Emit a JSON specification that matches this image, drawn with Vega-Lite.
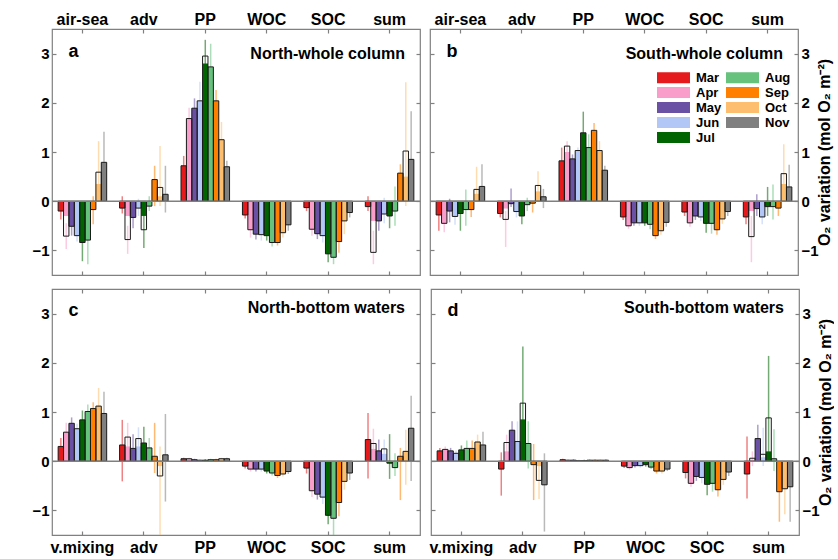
{
"$schema": "https://vega.github.io/schema/vega-lite/v6.json",
"autosize": {"type": "pad"},
"padding": {"left": 31, "top": 10, "right": 0, "bottom": 0},
"background": "white",
"config": {
  "font": "Liberation Sans",
  "view": {"stroke": "#808080", "strokeWidth": 1.2},
  "axis": {"grid": false, "domain": false, "tickColor": "#808080", "tickWidth": 1.2, "labelColor": "black", "labelFontWeight": "bold", "titleColor": "black"}
},
"data": {"values": [
{"p":"a","g":"air-sea","m":"Mar","v":-0.2,"f":-0.2,"lo":-0.37,"hi":-0.05},
{"p":"a","g":"air-sea","m":"Apr","v":-0.71,"f":-0.3,"lo":-0.97,"hi":-0.45},
{"p":"a","g":"air-sea","m":"May","v":-0.51,"f":-0.51,"lo":-0.7,"hi":-0.35},
{"p":"a","g":"air-sea","m":"Jun","v":-0.7,"f":-0.7,"lo":-0.82,"hi":-0.55},
{"p":"a","g":"air-sea","m":"Jul","v":-0.84,"f":-0.84,"lo":-1.22,"hi":-0.5},
{"p":"a","g":"air-sea","m":"Aug","v":-0.79,"f":-0.79,"lo":-1.28,"hi":-0.45},
{"p":"a","g":"air-sea","m":"Sep","v":-0.17,"f":-0.17,"lo":-0.47,"hi":0.1},
{"p":"a","g":"air-sea","m":"Oct","v":0.59,"f":0.35,"lo":0.2,"hi":1.22},
{"p":"a","g":"air-sea","m":"Nov","v":0.79,"f":0.79,"lo":0.3,"hi":1.41},
{"p":"a","g":"adv","m":"Mar","v":-0.14,"f":-0.14,"lo":-0.25,"hi":0.1},
{"p":"a","g":"adv","m":"Apr","v":-0.78,"f":-0.3,"lo":-1.07,"hi":-0.5},
{"p":"a","g":"adv","m":"May","v":-0.33,"f":-0.33,"lo":-0.55,"hi":-0.15},
{"p":"a","g":"adv","m":"Jun","v":-0.14,"f":-0.14,"lo":-0.3,"hi":0.05},
{"p":"a","g":"adv","m":"Jul","v":-0.58,"f":-0.3,"lo":-0.95,"hi":-0.2},
{"p":"a","g":"adv","m":"Aug","v":-0.1,"f":-0.1,"lo":-0.2,"hi":0.1},
{"p":"a","g":"adv","m":"Sep","v":0.44,"f":0.44,"lo":-0.1,"hi":0.72},
{"p":"a","g":"adv","m":"Oct","v":0.28,"f":0.1,"lo":-0.1,"hi":1.12},
{"p":"a","g":"adv","m":"Nov","v":0.14,"f":0.14,"lo":-0.23,"hi":0.72},
{"p":"a","g":"PP","m":"Mar","v":0.72,"f":0.72,"lo":0.5,"hi":0.92},
{"p":"a","g":"PP","m":"Apr","v":1.68,"f":1.68,"lo":1.5,"hi":1.9},
{"p":"a","g":"PP","m":"May","v":1.89,"f":1.89,"lo":1.7,"hi":2.09},
{"p":"a","g":"PP","m":"Jun","v":2.04,"f":2.04,"lo":1.8,"hi":2.43},
{"p":"a","g":"PP","m":"Jul","v":2.95,"f":2.8,"lo":2.6,"hi":3.28},
{"p":"a","g":"PP","m":"Aug","v":2.73,"f":2.73,"lo":2.3,"hi":3.2},
{"p":"a","g":"PP","m":"Sep","v":2.04,"f":2.04,"lo":1.85,"hi":2.26},
{"p":"a","g":"PP","m":"Oct","v":1.25,"f":1.25,"lo":0.95,"hi":1.61},
{"p":"a","g":"PP","m":"Nov","v":0.7,"f":0.7,"lo":0.6,"hi":0.82},
{"p":"a","g":"WOC","m":"Mar","v":-0.28,"f":-0.28,"lo":-0.35,"hi":-0.2},
{"p":"a","g":"WOC","m":"Apr","v":-0.58,"f":-0.58,"lo":-0.74,"hi":-0.45},
{"p":"a","g":"WOC","m":"May","v":-0.67,"f":-0.67,"lo":-0.78,"hi":-0.55},
{"p":"a","g":"WOC","m":"Jun","v":-0.68,"f":-0.68,"lo":-0.8,"hi":-0.58},
{"p":"a","g":"WOC","m":"Jul","v":-0.7,"f":-0.7,"lo":-0.8,"hi":-0.6},
{"p":"a","g":"WOC","m":"Aug","v":-0.84,"f":-0.84,"lo":-0.92,"hi":-0.75},
{"p":"a","g":"WOC","m":"Sep","v":-0.84,"f":-0.84,"lo":-0.9,"hi":-0.75},
{"p":"a","g":"WOC","m":"Oct","v":-0.64,"f":-0.64,"lo":-0.74,"hi":-0.55},
{"p":"a","g":"WOC","m":"Nov","v":-0.48,"f":-0.48,"lo":-0.6,"hi":-0.38},
{"p":"a","g":"SOC","m":"Mar","v":-0.13,"f":-0.13,"lo":-0.2,"hi":-0.05},
{"p":"a","g":"SOC","m":"Apr","v":-0.57,"f":-0.57,"lo":-0.7,"hi":-0.45},
{"p":"a","g":"SOC","m":"May","v":-0.66,"f":-0.66,"lo":-0.77,"hi":-0.55},
{"p":"a","g":"SOC","m":"Jun","v":-0.7,"f":-0.7,"lo":-0.84,"hi":-0.6},
{"p":"a","g":"SOC","m":"Jul","v":-1.07,"f":-1.07,"lo":-1.24,"hi":-0.9},
{"p":"a","g":"SOC","m":"Aug","v":-1.14,"f":-1.14,"lo":-1.28,"hi":-0.95},
{"p":"a","g":"SOC","m":"Sep","v":-0.82,"f":-0.82,"lo":-1.05,"hi":-0.6},
{"p":"a","g":"SOC","m":"Oct","v":-0.4,"f":-0.4,"lo":-0.67,"hi":-0.3},
{"p":"a","g":"SOC","m":"Nov","v":-0.23,"f":-0.23,"lo":-0.33,"hi":-0.15},
{"p":"a","g":"sum","m":"Mar","v":-0.11,"f":-0.11,"lo":-0.2,"hi":0.1},
{"p":"a","g":"sum","m":"Apr","v":-1.04,"f":-0.4,"lo":-1.28,"hi":-0.6},
{"p":"a","g":"sum","m":"May","v":-0.4,"f":-0.4,"lo":-0.6,"hi":-0.2},
{"p":"a","g":"sum","m":"Jun","v":-0.26,"f":-0.26,"lo":-0.45,"hi":0.07},
{"p":"a","g":"sum","m":"Jul","v":-0.3,"f":-0.3,"lo":-0.55,"hi":-0.1},
{"p":"a","g":"sum","m":"Aug","v":-0.2,"f":-0.2,"lo":-0.5,"hi":0.3},
{"p":"a","g":"sum","m":"Sep","v":0.57,"f":0.57,"lo":0.0,"hi":0.75},
{"p":"a","g":"sum","m":"Oct","v":1.02,"f":0.5,"lo":-0.1,"hi":2.42},
{"p":"a","g":"sum","m":"Nov","v":0.85,"f":0.85,"lo":0.0,"hi":1.83},
{"p":"b","g":"air-sea","m":"Mar","v":-0.28,"f":-0.28,"lo":-0.6,"hi":-0.1},
{"p":"b","g":"air-sea","m":"Apr","v":-0.45,"f":-0.45,"lo":-0.63,"hi":-0.3},
{"p":"b","g":"air-sea","m":"May","v":-0.2,"f":-0.2,"lo":-0.43,"hi":0.05},
{"p":"b","g":"air-sea","m":"Jun","v":-0.31,"f":-0.31,"lo":-0.48,"hi":-0.15},
{"p":"b","g":"air-sea","m":"Jul","v":-0.25,"f":-0.25,"lo":-0.6,"hi":-0.1},
{"p":"b","g":"air-sea","m":"Aug","v":-0.17,"f":-0.17,"lo":-0.5,"hi":0.24},
{"p":"b","g":"air-sea","m":"Sep","v":-0.17,"f":-0.17,"lo":-0.32,"hi":-0.05},
{"p":"b","g":"air-sea","m":"Oct","v":0.24,"f":0.15,"lo":0.0,"hi":0.7},
{"p":"b","g":"air-sea","m":"Nov","v":0.3,"f":0.3,"lo":0.0,"hi":0.75},
{"p":"b","g":"adv","m":"Mar","v":-0.25,"f":-0.25,"lo":-0.33,"hi":-0.15},
{"p":"b","g":"adv","m":"Apr","v":-0.37,"f":-0.15,"lo":-0.93,"hi":-0.2},
{"p":"b","g":"adv","m":"May","v":-0.05,"f":-0.05,"lo":-0.12,"hi":0.26},
{"p":"b","g":"adv","m":"Jun","v":-0.21,"f":-0.21,"lo":-0.33,"hi":-0.1},
{"p":"b","g":"adv","m":"Jul","v":-0.3,"f":-0.3,"lo":-0.47,"hi":-0.15},
{"p":"b","g":"adv","m":"Aug","v":-0.07,"f":-0.07,"lo":-0.2,"hi":0.07},
{"p":"b","g":"adv","m":"Sep","v":-0.04,"f":-0.04,"lo":-0.23,"hi":0.0},
{"p":"b","g":"adv","m":"Oct","v":0.32,"f":0.2,"lo":0.05,"hi":0.61},
{"p":"b","g":"adv","m":"Nov","v":0.09,"f":0.09,"lo":-0.14,"hi":0.25},
{"p":"b","g":"PP","m":"Mar","v":0.82,"f":0.82,"lo":0.6,"hi":1.09},
{"p":"b","g":"PP","m":"Apr","v":1.12,"f":1.0,"lo":0.95,"hi":1.22},
{"p":"b","g":"PP","m":"May","v":0.86,"f":0.86,"lo":0.75,"hi":0.95},
{"p":"b","g":"PP","m":"Jun","v":1.03,"f":1.03,"lo":0.9,"hi":1.09},
{"p":"b","g":"PP","m":"Jul","v":1.39,"f":1.39,"lo":1.0,"hi":1.82},
{"p":"b","g":"PP","m":"Aug","v":1.09,"f":1.09,"lo":0.9,"hi":1.36},
{"p":"b","g":"PP","m":"Sep","v":1.44,"f":1.44,"lo":1.3,"hi":1.59},
{"p":"b","g":"PP","m":"Oct","v":1.03,"f":1.03,"lo":0.85,"hi":1.22},
{"p":"b","g":"PP","m":"Nov","v":0.63,"f":0.63,"lo":0.55,"hi":0.72},
{"p":"b","g":"WOC","m":"Mar","v":-0.32,"f":-0.32,"lo":-0.38,"hi":-0.25},
{"p":"b","g":"WOC","m":"Apr","v":-0.5,"f":-0.5,"lo":-0.56,"hi":-0.43},
{"p":"b","g":"WOC","m":"May","v":-0.44,"f":-0.44,"lo":-0.5,"hi":-0.38},
{"p":"b","g":"WOC","m":"Jun","v":-0.44,"f":-0.44,"lo":-0.5,"hi":-0.38},
{"p":"b","g":"WOC","m":"Jul","v":-0.44,"f":-0.44,"lo":-0.5,"hi":-0.38},
{"p":"b","g":"WOC","m":"Aug","v":-0.47,"f":-0.47,"lo":-0.57,"hi":-0.38},
{"p":"b","g":"WOC","m":"Sep","v":-0.7,"f":-0.7,"lo":-0.77,"hi":-0.62},
{"p":"b","g":"WOC","m":"Oct","v":-0.6,"f":-0.6,"lo":-0.68,"hi":-0.52},
{"p":"b","g":"WOC","m":"Nov","v":-0.43,"f":-0.43,"lo":-0.52,"hi":-0.35},
{"p":"b","g":"SOC","m":"Mar","v":-0.22,"f":-0.22,"lo":-0.3,"hi":-0.15},
{"p":"b","g":"SOC","m":"Apr","v":-0.44,"f":-0.44,"lo":-0.52,"hi":-0.36},
{"p":"b","g":"SOC","m":"May","v":-0.3,"f":-0.3,"lo":-0.38,"hi":-0.22},
{"p":"b","g":"SOC","m":"Jun","v":-0.32,"f":-0.32,"lo":-0.4,"hi":-0.25},
{"p":"b","g":"SOC","m":"Jul","v":-0.45,"f":-0.45,"lo":-0.64,"hi":-0.3},
{"p":"b","g":"SOC","m":"Aug","v":-0.45,"f":-0.45,"lo":-0.66,"hi":-0.3},
{"p":"b","g":"SOC","m":"Sep","v":-0.58,"f":-0.58,"lo":-0.68,"hi":-0.48},
{"p":"b","g":"SOC","m":"Oct","v":-0.36,"f":-0.36,"lo":-0.46,"hi":-0.28},
{"p":"b","g":"SOC","m":"Nov","v":-0.21,"f":-0.21,"lo":-0.3,"hi":-0.15},
{"p":"b","g":"sum","m":"Mar","v":-0.32,"f":-0.32,"lo":-0.47,"hi":-0.15},
{"p":"b","g":"sum","m":"Apr","v":-0.72,"f":-0.2,"lo":-1.24,"hi":-0.3},
{"p":"b","g":"sum","m":"May","v":-0.15,"f":-0.15,"lo":-0.3,"hi":0.14},
{"p":"b","g":"sum","m":"Jun","v":-0.32,"f":-0.32,"lo":-0.47,"hi":-0.15},
{"p":"b","g":"sum","m":"Jul","v":-0.11,"f":-0.11,"lo":-0.3,"hi":0.29},
{"p":"b","g":"sum","m":"Aug","v":-0.11,"f":-0.11,"lo":-0.37,"hi":0.34},
{"p":"b","g":"sum","m":"Sep","v":-0.14,"f":-0.14,"lo":-0.3,"hi":0.0},
{"p":"b","g":"sum","m":"Oct","v":0.56,"f":0.35,"lo":0.0,"hi":1.16},
{"p":"b","g":"sum","m":"Nov","v":0.29,"f":0.29,"lo":0.05,"hi":0.74},
{"p":"c","g":"v.mixing","m":"Mar","v":0.3,"f":0.3,"lo":0.15,"hi":0.47},
{"p":"c","g":"v.mixing","m":"Apr","v":0.59,"f":0.59,"lo":0.45,"hi":0.78},
{"p":"c","g":"v.mixing","m":"May","v":0.77,"f":0.77,"lo":0.65,"hi":0.89},
{"p":"c","g":"v.mixing","m":"Jun","v":0.66,"f":0.66,"lo":0.55,"hi":0.76},
{"p":"c","g":"v.mixing","m":"Jul","v":0.84,"f":0.84,"lo":0.65,"hi":1.03},
{"p":"c","g":"v.mixing","m":"Aug","v":1.01,"f":1.01,"lo":0.85,"hi":1.15},
{"p":"c","g":"v.mixing","m":"Sep","v":1.07,"f":1.07,"lo":0.95,"hi":1.2},
{"p":"c","g":"v.mixing","m":"Oct","v":1.12,"f":1.12,"lo":0.8,"hi":1.49},
{"p":"c","g":"v.mixing","m":"Nov","v":0.97,"f":0.97,"lo":0.65,"hi":1.41},
{"p":"c","g":"adv","m":"Mar","v":0.33,"f":0.33,"lo":-0.41,"hi":0.84},
{"p":"c","g":"adv","m":"Apr","v":0.49,"f":0.3,"lo":0.2,"hi":0.78},
{"p":"c","g":"adv","m":"May","v":0.26,"f":0.26,"lo":0.1,"hi":0.55},
{"p":"c","g":"adv","m":"Jun","v":0.46,"f":0.3,"lo":0.2,"hi":0.69},
{"p":"c","g":"adv","m":"Jul","v":0.37,"f":0.37,"lo":0.1,"hi":0.7},
{"p":"c","g":"adv","m":"Aug","v":0.27,"f":0.27,"lo":0.0,"hi":0.47},
{"p":"c","g":"adv","m":"Sep","v":0.1,"f":0.1,"lo":-0.24,"hi":0.78},
{"p":"c","g":"adv","m":"Oct","v":-0.3,"f":-0.1,"lo":-1.5,"hi":0.3},
{"p":"c","g":"adv","m":"Nov","v":0.13,"f":0.13,"lo":-0.82,"hi":0.96},
{"p":"c","g":"PP","m":"Mar","v":0.05,"f":0.05,"lo":0.03,"hi":0.07},
{"p":"c","g":"PP","m":"Apr","v":0.05,"f":0.05,"lo":0.03,"hi":0.07},
{"p":"c","g":"PP","m":"May","v":0.03,"f":0.03,"lo":0.01,"hi":0.05},
{"p":"c","g":"PP","m":"Jun","v":0.02,"f":0.02,"lo":0.0,"hi":0.04},
{"p":"c","g":"PP","m":"Jul","v":0.02,"f":0.02,"lo":0.0,"hi":0.04},
{"p":"c","g":"PP","m":"Aug","v":0.03,"f":0.03,"lo":0.01,"hi":0.05},
{"p":"c","g":"PP","m":"Sep","v":0.03,"f":0.03,"lo":0.01,"hi":0.05},
{"p":"c","g":"PP","m":"Oct","v":0.05,"f":0.05,"lo":0.03,"hi":0.07},
{"p":"c","g":"PP","m":"Nov","v":0.05,"f":0.05,"lo":0.03,"hi":0.07},
{"p":"c","g":"WOC","m":"Mar","v":-0.1,"f":-0.1,"lo":-0.15,"hi":-0.05},
{"p":"c","g":"WOC","m":"Apr","v":-0.16,"f":-0.16,"lo":-0.21,"hi":-0.11},
{"p":"c","g":"WOC","m":"May","v":-0.16,"f":-0.16,"lo":-0.21,"hi":-0.11},
{"p":"c","g":"WOC","m":"Jun","v":-0.16,"f":-0.16,"lo":-0.21,"hi":-0.11},
{"p":"c","g":"WOC","m":"Jul","v":-0.2,"f":-0.2,"lo":-0.25,"hi":-0.15},
{"p":"c","g":"WOC","m":"Aug","v":-0.24,"f":-0.24,"lo":-0.29,"hi":-0.19},
{"p":"c","g":"WOC","m":"Sep","v":-0.29,"f":-0.29,"lo":-0.34,"hi":-0.24},
{"p":"c","g":"WOC","m":"Oct","v":-0.26,"f":-0.26,"lo":-0.31,"hi":-0.21},
{"p":"c","g":"WOC","m":"Nov","v":-0.21,"f":-0.21,"lo":-0.26,"hi":-0.16},
{"p":"c","g":"SOC","m":"Mar","v":-0.14,"f":-0.14,"lo":-0.25,"hi":-0.05},
{"p":"c","g":"SOC","m":"Apr","v":-0.6,"f":-0.6,"lo":-0.73,"hi":-0.48},
{"p":"c","g":"SOC","m":"May","v":-0.67,"f":-0.67,"lo":-0.78,"hi":-0.55},
{"p":"c","g":"SOC","m":"Jun","v":-0.73,"f":-0.73,"lo":-0.87,"hi":-0.6},
{"p":"c","g":"SOC","m":"Jul","v":-1.1,"f":-1.1,"lo":-1.28,"hi":-0.9},
{"p":"c","g":"SOC","m":"Aug","v":-1.16,"f":-1.16,"lo":-1.5,"hi":-0.9},
{"p":"c","g":"SOC","m":"Sep","v":-0.84,"f":-0.84,"lo":-1.12,"hi":-0.6},
{"p":"c","g":"SOC","m":"Oct","v":-0.41,"f":-0.41,"lo":-0.58,"hi":-0.3},
{"p":"c","g":"SOC","m":"Nov","v":-0.24,"f":-0.24,"lo":-0.38,"hi":-0.12},
{"p":"c","g":"sum","m":"Mar","v":0.44,"f":0.44,"lo":-0.35,"hi":0.98},
{"p":"c","g":"sum","m":"Apr","v":0.36,"f":0.25,"lo":0.1,"hi":0.66},
{"p":"c","g":"sum","m":"May","v":0.21,"f":0.21,"lo":0.05,"hi":0.44},
{"p":"c","g":"sum","m":"Jun","v":0.25,"f":0.15,"lo":0.0,"hi":0.44},
{"p":"c","g":"sum","m":"Jul","v":-0.04,"f":-0.04,"lo":-0.36,"hi":0.55},
{"p":"c","g":"sum","m":"Aug","v":-0.13,"f":-0.13,"lo":-0.3,"hi":0.16},
{"p":"c","g":"sum","m":"Sep","v":0.1,"f":0.1,"lo":-0.79,"hi":0.27},
{"p":"c","g":"sum","m":"Oct","v":0.2,"f":0.2,"lo":-0.48,"hi":0.64},
{"p":"c","g":"sum","m":"Nov","v":0.67,"f":0.67,"lo":-0.4,"hi":1.33},
{"p":"d","g":"v.mixing","m":"Mar","v":0.21,"f":0.21,"lo":0.15,"hi":0.27},
{"p":"d","g":"v.mixing","m":"Apr","v":0.24,"f":0.24,"lo":0.18,"hi":0.3},
{"p":"d","g":"v.mixing","m":"May","v":0.21,"f":0.21,"lo":0.14,"hi":0.27},
{"p":"d","g":"v.mixing","m":"Jun","v":0.16,"f":0.16,"lo":0.1,"hi":0.22},
{"p":"d","g":"v.mixing","m":"Jul","v":0.23,"f":0.23,"lo":0.12,"hi":0.32},
{"p":"d","g":"v.mixing","m":"Aug","v":0.26,"f":0.26,"lo":0.15,"hi":0.42},
{"p":"d","g":"v.mixing","m":"Sep","v":0.26,"f":0.26,"lo":0.1,"hi":0.42},
{"p":"d","g":"v.mixing","m":"Oct","v":0.39,"f":0.39,"lo":0.2,"hi":0.54},
{"p":"d","g":"v.mixing","m":"Nov","v":0.33,"f":0.33,"lo":0.05,"hi":0.6},
{"p":"d","g":"adv","m":"Mar","v":-0.16,"f":-0.16,"lo":-0.7,"hi":0.18},
{"p":"d","g":"adv","m":"Apr","v":0.38,"f":0.2,"lo":0.0,"hi":0.54},
{"p":"d","g":"adv","m":"May","v":0.63,"f":0.63,"lo":0.2,"hi":0.81},
{"p":"d","g":"adv","m":"Jun","v":0.4,"f":0.4,"lo":0.05,"hi":0.81},
{"p":"d","g":"adv","m":"Jul","v":1.18,"f":0.85,"lo":0.1,"hi":2.33},
{"p":"d","g":"adv","m":"Aug","v":0.36,"f":0.36,"lo":-0.15,"hi":0.81},
{"p":"d","g":"adv","m":"Sep","v":-0.07,"f":-0.07,"lo":-0.79,"hi":0.35},
{"p":"d","g":"adv","m":"Oct","v":-0.39,"f":-0.1,"lo":-0.77,"hi":0.0},
{"p":"d","g":"adv","m":"Nov","v":-0.48,"f":-0.48,"lo":-1.43,"hi":0.16},
{"p":"d","g":"PP","m":"Mar","v":0.03,"f":0.03,"lo":0.01,"hi":0.05},
{"p":"d","g":"PP","m":"Apr","v":0.02,"f":0.02,"lo":0.0,"hi":0.04},
{"p":"d","g":"PP","m":"May","v":0.02,"f":0.02,"lo":0.0,"hi":0.04},
{"p":"d","g":"PP","m":"Jun","v":0.01,"f":0.01,"lo":0.0,"hi":0.03},
{"p":"d","g":"PP","m":"Jul","v":0.01,"f":0.01,"lo":0.0,"hi":0.03},
{"p":"d","g":"PP","m":"Aug","v":0.02,"f":0.02,"lo":0.0,"hi":0.04},
{"p":"d","g":"PP","m":"Sep","v":0.02,"f":0.02,"lo":0.0,"hi":0.04},
{"p":"d","g":"PP","m":"Oct","v":0.02,"f":0.02,"lo":0.0,"hi":0.04},
{"p":"d","g":"PP","m":"Nov","v":0.02,"f":0.02,"lo":0.0,"hi":0.04},
{"p":"d","g":"WOC","m":"Mar","v":-0.1,"f":-0.1,"lo":-0.14,"hi":-0.06},
{"p":"d","g":"WOC","m":"Apr","v":-0.13,"f":-0.13,"lo":-0.17,"hi":-0.09},
{"p":"d","g":"WOC","m":"May","v":-0.09,"f":-0.09,"lo":-0.13,"hi":-0.05},
{"p":"d","g":"WOC","m":"Jun","v":-0.09,"f":-0.09,"lo":-0.13,"hi":-0.05},
{"p":"d","g":"WOC","m":"Jul","v":-0.07,"f":-0.07,"lo":-0.11,"hi":-0.03},
{"p":"d","g":"WOC","m":"Aug","v":-0.12,"f":-0.12,"lo":-0.16,"hi":-0.08},
{"p":"d","g":"WOC","m":"Sep","v":-0.2,"f":-0.2,"lo":-0.25,"hi":-0.15},
{"p":"d","g":"WOC","m":"Oct","v":-0.2,"f":-0.2,"lo":-0.25,"hi":-0.15},
{"p":"d","g":"WOC","m":"Nov","v":-0.16,"f":-0.16,"lo":-0.2,"hi":-0.12},
{"p":"d","g":"SOC","m":"Mar","v":-0.23,"f":-0.23,"lo":-0.35,"hi":-0.12},
{"p":"d","g":"SOC","m":"Apr","v":-0.45,"f":-0.45,"lo":-0.52,"hi":-0.35},
{"p":"d","g":"SOC","m":"May","v":-0.31,"f":-0.31,"lo":-0.4,"hi":-0.22},
{"p":"d","g":"SOC","m":"Jun","v":-0.33,"f":-0.33,"lo":-0.45,"hi":-0.22},
{"p":"d","g":"SOC","m":"Jul","v":-0.47,"f":-0.47,"lo":-0.69,"hi":-0.3},
{"p":"d","g":"SOC","m":"Aug","v":-0.45,"f":-0.45,"lo":-0.62,"hi":-0.3},
{"p":"d","g":"SOC","m":"Sep","v":-0.58,"f":-0.58,"lo":-0.72,"hi":-0.45},
{"p":"d","g":"SOC","m":"Oct","v":-0.37,"f":-0.37,"lo":-0.48,"hi":-0.25},
{"p":"d","g":"SOC","m":"Nov","v":-0.22,"f":-0.22,"lo":-0.3,"hi":-0.12},
{"p":"d","g":"sum","m":"Mar","v":-0.26,"f":-0.26,"lo":-0.76,"hi":0.5},
{"p":"d","g":"sum","m":"Apr","v":0.06,"f":0.03,"lo":-0.1,"hi":0.2},
{"p":"d","g":"sum","m":"May","v":0.46,"f":0.46,"lo":0.2,"hi":0.74},
{"p":"d","g":"sum","m":"Jun","v":0.14,"f":0.08,"lo":-0.1,"hi":0.68},
{"p":"d","g":"sum","m":"Jul","v":0.88,"f":0.2,"lo":0.0,"hi":2.14},
{"p":"d","g":"sum","m":"Aug","v":0.05,"f":0.05,"lo":-0.2,"hi":0.65},
{"p":"d","g":"sum","m":"Sep","v":-0.62,"f":-0.62,"lo":-1.23,"hi":-0.3},
{"p":"d","g":"sum","m":"Oct","v":-0.56,"f":-0.56,"lo":-1.08,"hi":-0.3},
{"p":"d","g":"sum","m":"Nov","v":-0.52,"f":-0.52,"lo":-1.23,"hi":-0.15}
]},
"spacing": 10,
"resolve": {"scale": {"color": "independent"}, "legend": {"color": "independent"}},
"vconcat": [
 {"hconcat": [
  {"width": 368, "height": 246,
   "transform": [{"filter": "datum.p == 'a'"}],
   "title": {"text": "North-whole column", "anchor": "end", "frame": "group", "orient": "top", "offset": -64, "baseline": "alphabetic", "fontSize": 16, "fontWeight": "bold", "dx": -15, "color": "black"},
   "resolve": {"axis": {"x": "independent", "y": "independent"}},
   "layer": [
    {"mark": {"type": "bar"},
     "encoding": {
      "x": {"field": "g", "type": "nominal", "sort": ["air-sea","adv","PP","WOC","SOC","sum"], "scale": {"paddingInner": 0.21, "paddingOuter": 0.1}, "axis": {"orient": "top", "title": "a", "titleX": 16, "titleY": 27, "titleAlign": "left", "titleBaseline": "alphabetic", "titleFontSize": 18, "titleFontWeight": "bold", "titleAngle": 0, "labelAngle": 0, "labelFontSize": 16, "tickSize": -4, "labelPadding": 6}},
      "xOffset": {"field": "m", "type": "nominal", "sort": ["Mar","Apr","May","Jun","Jul","Aug","Sep","Oct","Nov"], "scale": {"paddingInner": 0, "paddingOuter": 0}},
      "y": {"field": "f", "type": "quantitative", "scale": {"domain": [-1.5, 3.5], "nice": false}, "axis": {"orient": "left", "values": [-1,0,1,2,3], "title": null, "tickSize": -4, "labelPadding": 7, "labelFontSize": 15}},
      "color": {"field": "m", "type": "nominal", "scale": {"domain": ["Mar","Apr","May","Jun","Jul","Aug","Sep","Oct","Nov"], "range": ["#e41a1c","#f99ecb","#6a51a3","#b3c7f7","#006400","#66c27d","#ff7f00","#fdbf6f","#808080"]}, "legend": null}
     }},
    {"mark": {"type": "rule", "strokeWidth": 1.5, "opacity": 0.55},
     "encoding": {
      "x": {"field": "g", "type": "nominal", "sort": ["air-sea","adv","PP","WOC","SOC","sum"], "axis": null},
      "xOffset": {"field": "m", "type": "nominal", "sort": ["Mar","Apr","May","Jun","Jul","Aug","Sep","Oct","Nov"]},
      "y": {"field": "lo", "type": "quantitative", "axis": null},
      "y2": {"field": "hi"},
      "color": {"field": "m", "type": "nominal", "legend": null}
     }},
    {"mark": {"type": "bar", "fill": "transparent", "stroke": "#1a1a1a", "strokeWidth": 1},
     "encoding": {
      "x": {"field": "g", "type": "nominal", "sort": ["air-sea","adv","PP","WOC","SOC","sum"], "axis": {"orient": "bottom", "labels": false, "title": null, "tickSize": -4}},
      "xOffset": {"field": "m", "type": "nominal", "sort": ["Mar","Apr","May","Jun","Jul","Aug","Sep","Oct","Nov"]},
      "y": {"field": "v", "type": "quantitative", "axis": {"orient": "right", "values": [-1,0,1,2,3], "labels": false, "title": null, "tickSize": -4}}
     }},
    {"data": {"values": [{}]}, "mark": {"type": "rule", "color": "#808080", "strokeWidth": 1.5},
     "encoding": {"y": {"datum": 0, "type": "quantitative", "axis": null}}}
   ]},
  {"width": 368, "height": 246,
   "transform": [{"filter": "datum.p == 'b'"}],
   "title": {"text": "South-whole column", "anchor": "end", "frame": "group", "orient": "top", "offset": -64, "baseline": "alphabetic", "fontSize": 16, "fontWeight": "bold", "dx": -15, "color": "black"},
   "resolve": {"axis": {"x": "independent", "y": "independent"}},
   "layer": [
    {"mark": {"type": "bar"},
     "encoding": {
      "x": {"field": "g", "type": "nominal", "sort": ["air-sea","adv","PP","WOC","SOC","sum"], "scale": {"paddingInner": 0.21, "paddingOuter": 0.1}, "axis": {"orient": "top", "title": "b", "titleX": 16, "titleY": 27, "titleAlign": "left", "titleBaseline": "alphabetic", "titleFontSize": 18, "titleFontWeight": "bold", "titleAngle": 0, "labelAngle": 0, "labelFontSize": 16, "tickSize": -4, "labelPadding": 6}},
      "xOffset": {"field": "m", "type": "nominal", "sort": ["Mar","Apr","May","Jun","Jul","Aug","Sep","Oct","Nov"], "scale": {"paddingInner": 0, "paddingOuter": 0}},
      "y": {"field": "f", "type": "quantitative", "scale": {"domain": [-1.5, 3.5], "nice": false}, "axis": {"orient": "right", "values": [-1,0,1,2,3], "title": "O₂ variation (mol O₂ m⁻²)", "titleFontSize": 16, "titleFontWeight": "bold", "titleAngle": 270, "titlePadding": 14, "tickSize": -4, "labelPadding": 7, "labelFontSize": 15}},
      "color": {"field": "m", "type": "nominal", "scale": {"domain": ["Mar","Apr","May","Jun","Jul","Aug","Sep","Oct","Nov"], "range": ["#e41a1c","#f99ecb","#6a51a3","#b3c7f7","#006400","#66c27d","#ff7f00","#fdbf6f","#808080"]},
        "legend": {"orient": "none", "legendX": 237, "legendY": 42, "columns": 2, "title": null, "symbolType": "M-3,-1H3V1H-3Z", "symbolSize": 121, "symbolStrokeWidth": 0, "symbolOpacity": 1, "labelFontSize": 13, "labelFontWeight": "bold", "labelColor": "black", "labelOffset": 16, "rowPadding": 1, "columnPadding": 4,
          "encode": {"symbols": {"update": {"opacity": {"value": 1}, "fillOpacity": {"value": 1}, "strokeWidth": {"value": 0}}}}}}
     }},
    {"mark": {"type": "rule", "strokeWidth": 1.5, "opacity": 0.55},
     "encoding": {
      "x": {"field": "g", "type": "nominal", "sort": ["air-sea","adv","PP","WOC","SOC","sum"], "axis": null},
      "xOffset": {"field": "m", "type": "nominal", "sort": ["Mar","Apr","May","Jun","Jul","Aug","Sep","Oct","Nov"]},
      "y": {"field": "lo", "type": "quantitative", "axis": null},
      "y2": {"field": "hi"},
      "color": {"field": "m", "type": "nominal"}
     }},
    {"mark": {"type": "bar", "fill": "transparent", "stroke": "#1a1a1a", "strokeWidth": 1},
     "encoding": {
      "x": {"field": "g", "type": "nominal", "sort": ["air-sea","adv","PP","WOC","SOC","sum"], "axis": {"orient": "bottom", "labels": false, "title": null, "tickSize": -4}},
      "xOffset": {"field": "m", "type": "nominal", "sort": ["Mar","Apr","May","Jun","Jul","Aug","Sep","Oct","Nov"]},
      "y": {"field": "v", "type": "quantitative", "axis": {"orient": "left", "values": [-1,0,1,2,3], "labels": false, "title": null, "tickSize": -4}}
     }},
    {"data": {"values": [{}]}, "mark": {"type": "rule", "color": "#808080", "strokeWidth": 1.5},
     "encoding": {"y": {"datum": 0, "type": "quantitative", "axis": null}}}
   ]}
 ], "spacing": 6, "resolve": {"scale": {"color": "independent"}, "legend": {"color": "independent"}}},
 {"hconcat": [
  {"width": 368, "height": 246,
   "transform": [{"filter": "datum.p == 'c'"}],
   "title": {"text": "North-bottom waters", "anchor": "end", "frame": "group", "orient": "top", "offset": -41, "baseline": "alphabetic", "fontSize": 16, "fontWeight": "bold", "dx": -15, "color": "black"},
   "resolve": {"axis": {"x": "independent", "y": "independent"}},
   "layer": [
    {"mark": {"type": "bar"},
     "encoding": {
      "x": {"field": "g", "type": "nominal", "sort": ["v.mixing","adv","PP","WOC","SOC","sum"], "scale": {"paddingInner": 0.21, "paddingOuter": 0.1}, "axis": {"orient": "bottom", "title": "c", "titleX": 16, "titleY": -220, "titleAlign": "left", "titleBaseline": "alphabetic", "titleFontSize": 18, "titleFontWeight": "bold", "titleAngle": 0, "labelAngle": 0, "labelFontSize": 16, "tickSize": -4, "labelPadding": 8}},
      "xOffset": {"field": "m", "type": "nominal", "sort": ["Mar","Apr","May","Jun","Jul","Aug","Sep","Oct","Nov"], "scale": {"paddingInner": 0, "paddingOuter": 0}},
      "y": {"field": "f", "type": "quantitative", "scale": {"domain": [-1.5, 3.5], "nice": false}, "axis": {"orient": "left", "values": [-1,0,1,2,3], "title": null, "tickSize": -4, "labelPadding": 7, "labelFontSize": 15}},
      "color": {"field": "m", "type": "nominal", "scale": {"domain": ["Mar","Apr","May","Jun","Jul","Aug","Sep","Oct","Nov"], "range": ["#e41a1c","#f99ecb","#6a51a3","#b3c7f7","#006400","#66c27d","#ff7f00","#fdbf6f","#808080"]}, "legend": null}
     }},
    {"mark": {"type": "rule", "strokeWidth": 1.5, "opacity": 0.55},
     "encoding": {
      "x": {"field": "g", "type": "nominal", "sort": ["v.mixing","adv","PP","WOC","SOC","sum"], "axis": null},
      "xOffset": {"field": "m", "type": "nominal", "sort": ["Mar","Apr","May","Jun","Jul","Aug","Sep","Oct","Nov"]},
      "y": {"field": "lo", "type": "quantitative", "axis": null},
      "y2": {"field": "hi"},
      "color": {"field": "m", "type": "nominal", "legend": null}
     }},
    {"mark": {"type": "bar", "fill": "transparent", "stroke": "#1a1a1a", "strokeWidth": 1},
     "encoding": {
      "x": {"field": "g", "type": "nominal", "sort": ["v.mixing","adv","PP","WOC","SOC","sum"], "axis": {"orient": "top", "labels": false, "title": null, "tickSize": -4}},
      "xOffset": {"field": "m", "type": "nominal", "sort": ["Mar","Apr","May","Jun","Jul","Aug","Sep","Oct","Nov"]},
      "y": {"field": "v", "type": "quantitative", "axis": {"orient": "right", "values": [-1,0,1,2,3], "labels": false, "title": null, "tickSize": -4}}
     }},
    {"data": {"values": [{}]}, "mark": {"type": "rule", "color": "#808080", "strokeWidth": 1.5},
     "encoding": {"y": {"datum": 0, "type": "quantitative", "axis": null}}}
   ]},
  {"width": 368, "height": 246,
   "transform": [{"filter": "datum.p == 'd'"}],
   "title": {"text": "South-bottom waters", "anchor": "end", "frame": "group", "orient": "top", "offset": -41, "baseline": "alphabetic", "fontSize": 16, "fontWeight": "bold", "dx": -15, "color": "black"},
   "resolve": {"axis": {"x": "independent", "y": "independent"}},
   "layer": [
    {"mark": {"type": "bar"},
     "encoding": {
      "x": {"field": "g", "type": "nominal", "sort": ["v.mixing","adv","PP","WOC","SOC","sum"], "scale": {"paddingInner": 0.21, "paddingOuter": 0.1}, "axis": {"orient": "bottom", "title": "d", "titleX": 16, "titleY": -220, "titleAlign": "left", "titleBaseline": "alphabetic", "titleFontSize": 18, "titleFontWeight": "bold", "titleAngle": 0, "labelAngle": 0, "labelFontSize": 16, "tickSize": -4, "labelPadding": 8}},
      "xOffset": {"field": "m", "type": "nominal", "sort": ["Mar","Apr","May","Jun","Jul","Aug","Sep","Oct","Nov"], "scale": {"paddingInner": 0, "paddingOuter": 0}},
      "y": {"field": "f", "type": "quantitative", "scale": {"domain": [-1.5, 3.5], "nice": false}, "axis": {"orient": "right", "values": [-1,0,1,2,3], "title": "O₂ variation (mol O₂ m⁻²)", "titleFontSize": 16, "titleFontWeight": "bold", "titleAngle": 270, "titlePadding": 14, "tickSize": -4, "labelPadding": 7, "labelFontSize": 15}},
      "color": {"field": "m", "type": "nominal", "scale": {"domain": ["Mar","Apr","May","Jun","Jul","Aug","Sep","Oct","Nov"], "range": ["#e41a1c","#f99ecb","#6a51a3","#b3c7f7","#006400","#66c27d","#ff7f00","#fdbf6f","#808080"]}, "legend": null}
     }},
    {"mark": {"type": "rule", "strokeWidth": 1.5, "opacity": 0.55},
     "encoding": {
      "x": {"field": "g", "type": "nominal", "sort": ["v.mixing","adv","PP","WOC","SOC","sum"], "axis": null},
      "xOffset": {"field": "m", "type": "nominal", "sort": ["Mar","Apr","May","Jun","Jul","Aug","Sep","Oct","Nov"]},
      "y": {"field": "lo", "type": "quantitative", "axis": null},
      "y2": {"field": "hi"},
      "color": {"field": "m", "type": "nominal", "legend": null}
     }},
    {"mark": {"type": "bar", "fill": "transparent", "stroke": "#1a1a1a", "strokeWidth": 1},
     "encoding": {
      "x": {"field": "g", "type": "nominal", "sort": ["v.mixing","adv","PP","WOC","SOC","sum"], "axis": {"orient": "top", "labels": false, "title": null, "tickSize": -4}},
      "xOffset": {"field": "m", "type": "nominal", "sort": ["Mar","Apr","May","Jun","Jul","Aug","Sep","Oct","Nov"]},
      "y": {"field": "v", "type": "quantitative", "axis": {"orient": "left", "values": [-1,0,1,2,3], "labels": false, "title": null, "tickSize": -4}}
     }},
    {"data": {"values": [{}]}, "mark": {"type": "rule", "color": "#808080", "strokeWidth": 1.5},
     "encoding": {"y": {"datum": 0, "type": "quantitative", "axis": null}}}
   ]}
 ], "spacing": 6, "resolve": {"scale": {"color": "independent"}, "legend": {"color": "independent"}}}
]
}
